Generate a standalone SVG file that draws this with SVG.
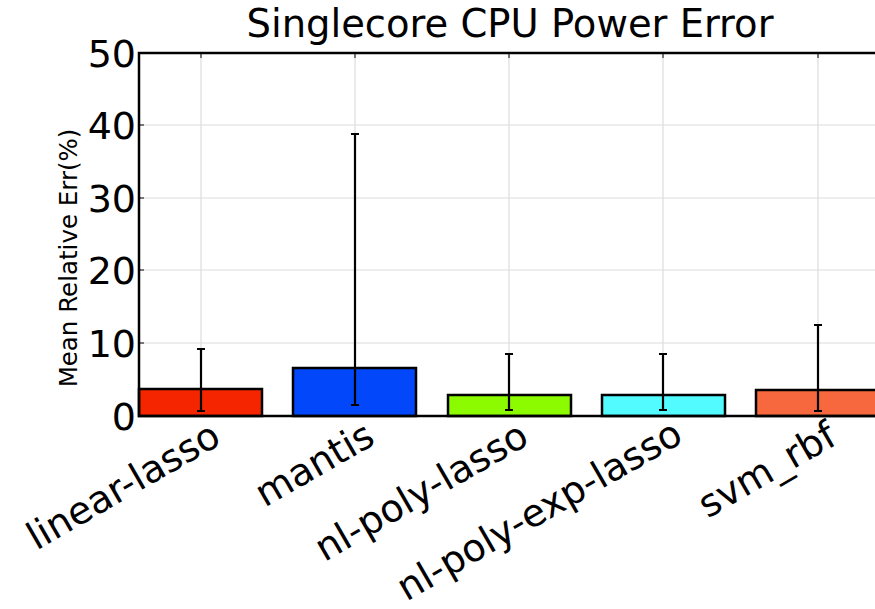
<svg xmlns="http://www.w3.org/2000/svg" width="875" height="609" viewBox="0 0 875 609">
<style>
text{font-family:"DejaVu Sans","Liberation Sans",sans-serif;fill:#000}
.grid{stroke:#dcdcdc;stroke-width:1.2;fill:none}
.axis{stroke:#000;stroke-width:2.5;fill:none}
.bar{stroke:#000;stroke-width:2.5}
.err{stroke:#000;stroke-width:2.2;fill:none}
.tick{font-size:38px}
.xl{font-size:38px;text-anchor:end}
</style>
<rect width="875" height="609" fill="#fff"/>
<g id="grid">
<line class="grid" x1="201" y1="53" x2="201" y2="416"/>
<line class="grid" x1="355" y1="53" x2="355" y2="416"/>
<line class="grid" x1="509" y1="53" x2="509" y2="416"/>
<line class="grid" x1="663" y1="53" x2="663" y2="416"/>
<line class="grid" x1="818" y1="53" x2="818" y2="416"/>
<line class="grid" x1="139" y1="125" x2="875" y2="125"/>
<line class="grid" x1="139" y1="198" x2="875" y2="198"/>
<line class="grid" x1="139" y1="270" x2="875" y2="270"/>
<line class="grid" x1="139" y1="343" x2="875" y2="343"/>
</g>
<g id="bar-linear-lasso"><rect class="bar" x="139" y="389" width="123" height="27" fill="#f52500"/></g>
<g id="bar-mantis"><rect class="bar" x="293" y="368" width="123" height="48" fill="#0347fb"/></g>
<g id="bar-nl-poly-lasso"><rect class="bar" x="448" y="395" width="123" height="21" fill="#8cfb00"/></g>
<g id="bar-nl-poly-exp-lasso"><rect class="bar" x="602" y="395" width="123" height="21" fill="#52fbff"/></g>
<g id="bar-svm_rbf"><rect class="bar" x="756" y="390" width="130" height="26" fill="#f8683f"/></g>
<g id="errorbars">
<path class="err" d="M201 349V411M197 349H205M197 411H205"/>
<path class="err" d="M355 134V405M351 134H359M351 405H359"/>
<path class="err" d="M509 354V410M505 354H513M505 410H513"/>
<path class="err" d="M663 354V410M659 354H667M659 410H667"/>
<path class="err" d="M818 325V411M814 325H822M814 411H822"/>
</g>
<g id="axes">
<path class="axis" d="M875 53H139V416H875"/>
<path stroke="#000" stroke-width="1" d="M201 53v5M355 53v5M509 53v5M663 53v5M818 53v5M139 125h5M139 198h5M139 270h5M139 343h5"/>
</g>
<g id="yticks" class="tick" text-anchor="end">
<text x="136" y="67">50</text>
<text x="136" y="139">40</text>
<text x="136" y="212">30</text>
<text x="136" y="284">20</text>
<text x="136" y="357">10</text>
<text x="136" y="430">0</text>
</g>
<g id="xticks">
<text class="xl" transform="translate(223,443) rotate(-30)">linear-lasso</text>
<text class="xl" transform="translate(377,443) rotate(-30)">mantis</text>
<text class="xl" transform="translate(531,443) rotate(-30)">nl-poly-lasso</text>
<text class="xl" transform="translate(685,441) rotate(-30)">nl-poly-exp-lasso</text>
<text class="xl" transform="translate(839,443) rotate(-30)">svm_rbf</text>
</g>
<text id="title" x="510" y="37" font-size="38.5" text-anchor="middle">Singlecore CPU Power Error</text>
<text id="ylabel" font-size="24.5" text-anchor="middle" transform="translate(77,258) rotate(-90)">Mean Relative Err(%)</text>
</svg>
